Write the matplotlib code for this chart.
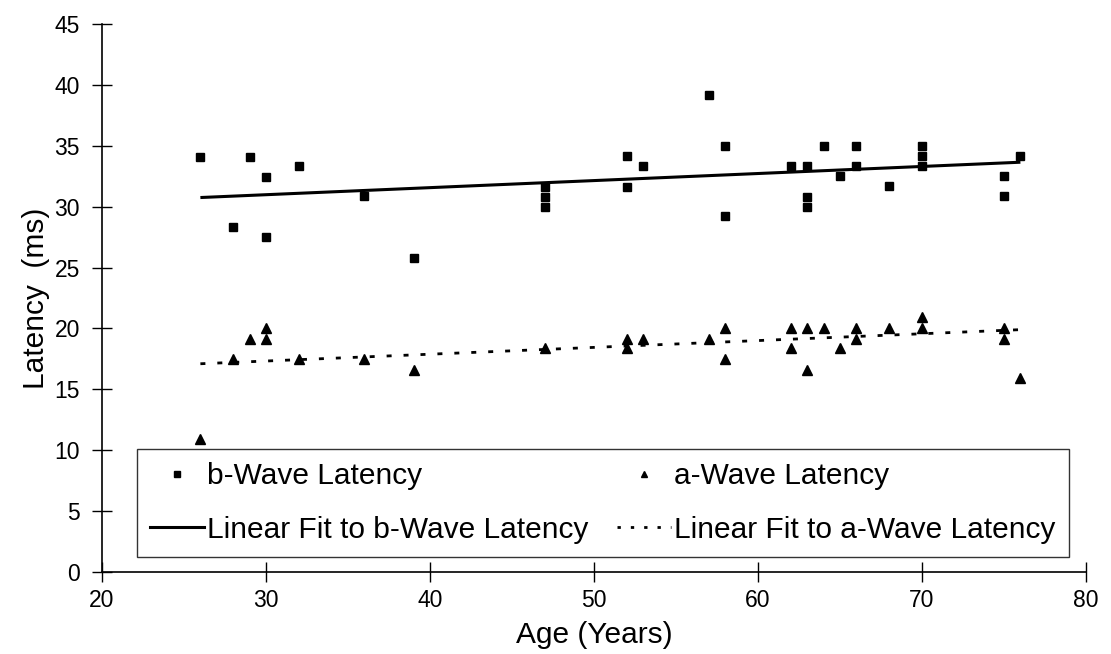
import matplotlib
matplotlib.use("Agg")
import matplotlib.pyplot as plt
from matplotlib.lines import Line2D

plt.rcParams['font.family'] = ['Liberation Sans', 'DejaVu Sans']

# b-wave latency (ms) by age
b_age = [26, 28, 29, 30, 30, 32, 36, 39, 47, 47, 47, 52, 52, 53, 57, 58, 58,
         62, 63, 63, 63, 64, 65, 66, 66, 68, 70, 70, 70, 75, 75, 76]
b_lat = [34.1, 28.3, 34.1, 32.45, 27.5, 33.3, 30.85, 25.8, 31.6, 30.8, 30.0,
         34.15, 31.6, 33.3, 39.2, 35.0, 29.2,
         33.3, 33.3, 30.8, 30.0, 35.0, 32.5, 35.0, 33.3, 31.7, 35.0, 34.15, 33.3,
         32.5, 30.9, 34.15]

# a-wave latency (ms) by age
a_age = [26, 28, 29, 30, 30, 32, 36, 39, 47, 52, 52, 53, 57, 58, 58,
         62, 62, 63, 63, 64, 65, 66, 66, 68, 70, 70, 75, 75, 76]
a_lat = [10.9, 17.5, 19.1, 20.0, 19.1, 17.5, 17.5, 16.6, 18.4, 19.1, 18.4, 19.1,
         19.1, 20.0, 17.5, 20.0, 18.4, 20.0, 16.6, 20.0, 18.4, 20.0, 19.1, 20.0,
         20.9, 20.0, 20.0, 19.1, 15.9]

# Linear fit end points
fit_x = [26, 76]
b_fit = [30.75, 33.65]
a_fit = [17.1, 19.9]

xticks = [20, 30, 40, 50, 60, 70, 80]
yticks = [0, 5, 10, 15, 20, 25, 30, 35, 40, 45]

fig = plt.figure(figsize=(11.11, 6.54), dpi=100)
ax = fig.add_axes([0.0918, 0.1254, 0.8857, 0.8379])

ax.plot(b_age, b_lat, linestyle='none', marker='s', markersize=6, color='black')
ax.plot(a_age, a_lat, linestyle='none', marker='^', markersize=6.5, color='black')
ax.plot(fit_x, b_fit, color='black', linewidth=2.2, solid_capstyle='butt')
ax.plot(fit_x, a_fit, color='black', linewidth=2.0, dashes=(1.8, 4.3))

ax.set_xlim(20, 80)
ax.set_ylim(0, 45)
ax.set_xticks(xticks)
ax.set_yticks(yticks)
for s in ['top', 'right']:
    ax.spines[s].set_visible(False)
for s in ['left', 'bottom']:
    ax.spines[s].set_linewidth(1.2)
ax.tick_params(direction='inout', length=14, width=1.0, labelsize=16.5)
ax.tick_params(axis='y', pad=9)
ax.tick_params(axis='x', pad=5)

ax.set_xlabel('Age (Years)', fontsize=21.5, labelpad=7)
ax.set_ylabel('Latency  (ms)', fontsize=21.5, labelpad=3)

handles = [
    Line2D([], [], linestyle='none', marker='s', markersize=4.5, color='black'),
    Line2D([], [], color='black', linewidth=2.2),
    Line2D([], [], linestyle='none', marker='^', markersize=4.5, color='black'),
    Line2D([], [], color='black', linewidth=2.0, dashes=(1.2, 3.6)),
]
labels = ['b-Wave Latency', 'Linear Fit to b-Wave Latency',
          'a-Wave Latency', 'Linear Fit to a-Wave Latency']
leg = ax.legend(handles, labels, ncol=2, fontsize=21.5, frameon=True,
                loc='upper left', bbox_to_anchor=(0.0356, 0.2245, 0.947, 0.0),
                mode='expand', fancybox=False, edgecolor='black',
                handlelength=1.8, handletextpad=0.1, columnspacing=0.6,
                borderaxespad=0, labelspacing=0.85, borderpad=0.45)
leg.get_frame().set_linewidth(1.0)

fig.savefig('out.png', dpi=100, facecolor='white')
